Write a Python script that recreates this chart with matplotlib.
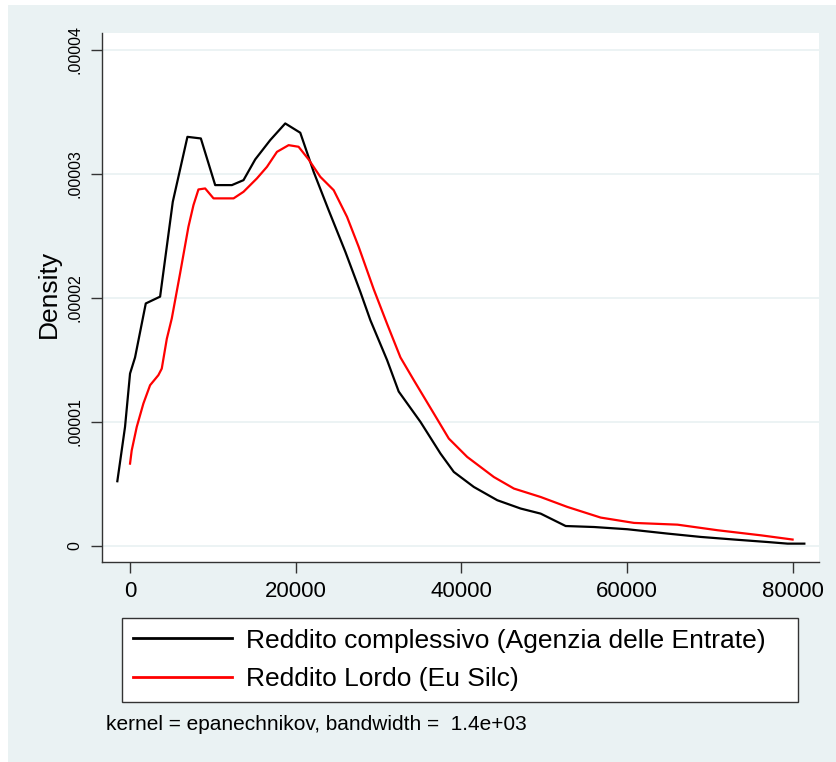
import numpy as np
import matplotlib
matplotlib.use("Agg")
import matplotlib.pyplot as plt
from matplotlib.patches import Rectangle

plt.rcParams["font.family"] = ["Liberation Sans", "DejaVu Sans"]

# black: Reddito complessivo (Agenzia delle Entrate)
ade_x = [-1535, -605, 0, 605, 1900, 3630, 5160, 6930, 8550, 10280, 12300,
         13700, 15115, 16930, 18740, 20555, 22170, 23980, 26000, 27810,
         29020, 31040, 32440, 35070, 37485, 39095, 41510, 44340, 47160,
         49580, 52600, 56030, 60060, 64900, 68920, 72960, 76990, 79400, 81420]
ade_y = [0.522, 0.96, 1.39, 1.52, 1.955, 2.01, 2.774, 3.298, 3.285, 2.909,
         2.909, 2.949, 3.116, 3.272, 3.406, 3.331, 3.016, 2.707, 2.371, 2.048,
         1.82, 1.498, 1.245, 1.0, 0.745, 0.597, 0.476, 0.369, 0.302, 0.261,
         0.161, 0.153, 0.135, 0.10, 0.073, 0.052, 0.032, 0.019, 0.019]

# red: Reddito Lordo (Eu Silc)
silc_x = [0, 200, 810, 1610, 2420, 3420, 3830, 4440, 5040, 6050, 7050, 7660,
          8260, 9070, 10080, 12500, 13700, 15320, 16530, 17740, 19150, 20350,
          21560, 22970, 24590, 26200, 27610, 29420, 31040, 32650, 34270,
          36680, 38490, 40710, 43930, 46350, 49580, 52800, 56830, 60860,
          66100, 70940, 76180, 80000]
silc_y = [0.664, 0.77, 0.96, 1.148, 1.296, 1.377, 1.43, 1.67, 1.834, 2.2,
          2.573, 2.748, 2.874, 2.882, 2.802, 2.802, 2.855, 2.963, 3.056, 3.177,
          3.231, 3.218, 3.116, 2.976, 2.868, 2.653, 2.411, 2.07, 1.79, 1.52,
          1.336, 1.068, 0.866, 0.718, 0.556, 0.463, 0.395, 0.315, 0.229, 0.186,
          0.172, 0.127, 0.086, 0.052]

xticks = [0, 20000, 40000, 60000, 80000]
yticks = [0, 1e-5, 2e-5, 3e-5, 4e-5]
ytick_labels = ["0", ".00001", ".00002", ".00003", ".00004"]

W, H = 836, 762
BG = "#eaf2f3"
fig = plt.figure(figsize=(W / 100, H / 100), dpi=100, facecolor="white")
fig.patches.append(Rectangle((8 / W, 0), 1 - 8 / W, 1 - 5 / H,
                             transform=fig.transFigure, facecolor=BG,
                             edgecolor="none", zorder=-10))

ax = fig.add_axes([102 / W, 1 - 562 / H, 717 / W, 529 / H])
ax.set_facecolor("white")
ax.plot(ade_x, np.array(ade_y) * 1e-5, color="black", lw=1.6,
        label="Reddito complessivo (Agenzia delle Entrate)")
ax.plot(silc_x, np.array(silc_y) * 1e-5, color="#ff0000", lw=1.6,
        label="Reddito Lordo (Eu Silc)")

ax.set_xlim(-3386, 83190)
ax.set_ylim(-1.29e-6, 4.135e-5)
ax.set_xticks(xticks)
ax.set_xticklabels([str(t) for t in xticks])
ax.set_yticks(yticks)
ax.set_yticklabels(ytick_labels, rotation=90, va="center")
for t in yticks:
    ax.axhline(t, color=BG, lw=1.3, zorder=0)

for s in ("top", "right"):
    ax.spines[s].set_visible(False)
for s in ("left", "bottom"):
    ax.spines[s].set_color("#333333")
    ax.spines[s].set_linewidth(1.0)
ax.tick_params(axis="x", length=8, width=1, color="#333333", pad=6,
               labelsize=16)
ax.tick_params(axis="y", length=8, width=1, color="#333333", pad=6,
               labelsize=11.5)

fig.text(49 / W, 1 - 294 / H, "Density", rotation=90, ha="center",
         va="center", fontsize=19)

leg = fig.legend(loc="upper left",
                 bbox_to_anchor=(122 / W, 1 - 618 / H, 676 / W, 0.0),
                 mode="expand", ncol=1, fontsize=19, handlelength=3.75,
                 handletextpad=0.56, borderpad=0.4, labelspacing=0.56,
                 borderaxespad=0, fancybox=False, framealpha=1,
                 edgecolor="#333333")
leg.get_frame().set_linewidth(1.0)
for line in leg.get_lines():
    line.set_linewidth(2.0)

fig.text(106 / W, 1 - 725 / H,
         "kernel = epanechnikov, bandwidth =  1.4e+03",
         ha="left", va="center", fontsize=15)

fig.savefig("out.png", dpi=100, facecolor="white")
